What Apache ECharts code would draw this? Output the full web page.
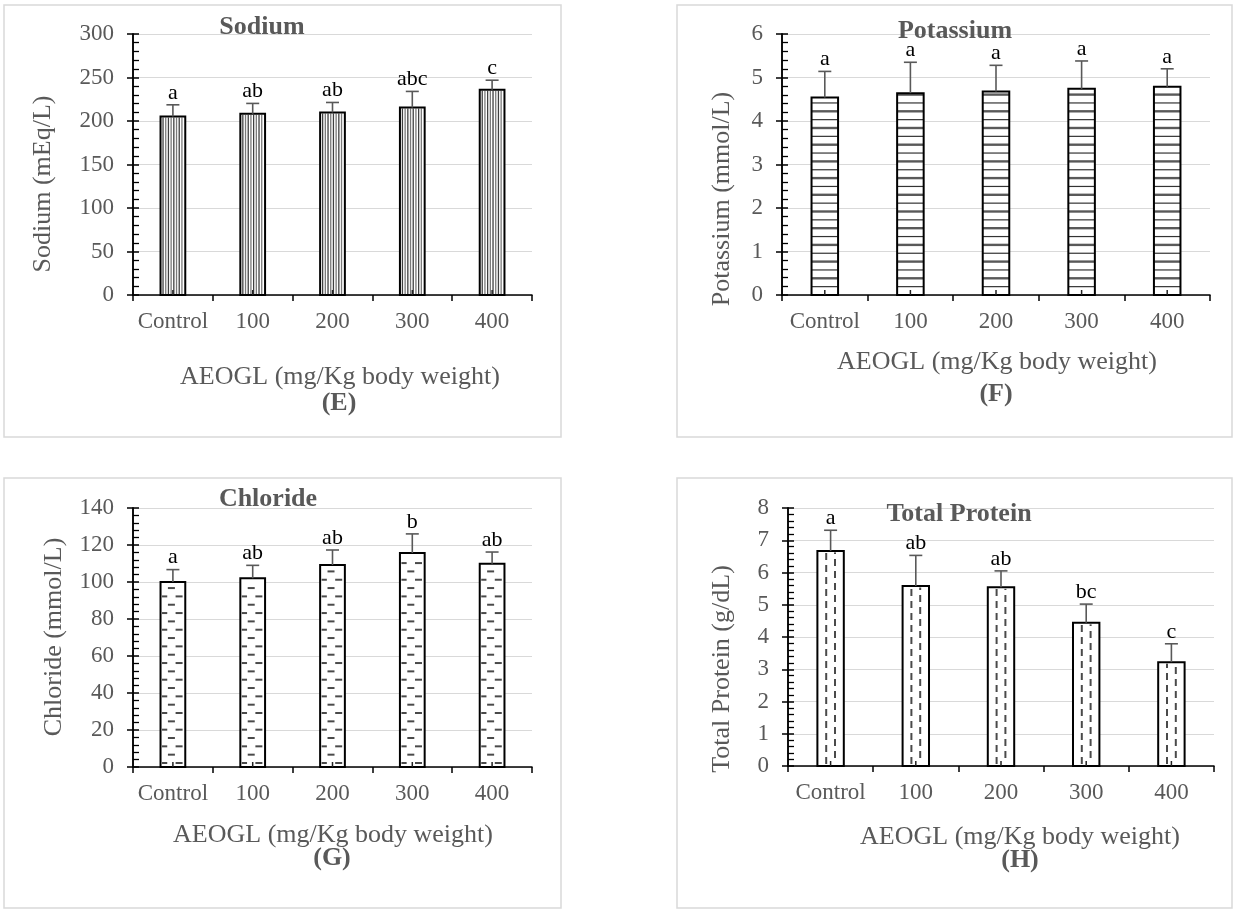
<!DOCTYPE html>
<html><head><meta charset="utf-8">
<script src="https://cdn.jsdelivr.net/npm/echarts@6/dist/echarts.min.js"></script>
<style>html,body{margin:0;padding:0;background:#fff}#c{width:1235px;height:912px}</style>
</head><body><div id="c"></div>
<script>
// ---------- data ----------
const categories = ['Control', '100', '200', '300', '400'];

const sodiumMean = [205.1, 208.2, 209.8, 215.5, 235.9];
const sodiumErr = [13.5, 12.0, 11.5, 18.5, 11.0];
const sodiumLetters = ['a', 'ab', 'ab', 'abc', 'c'];
const sodiumAxis = [0, 300, 50];

const potassiumMean = [4.54, 4.64, 4.68, 4.74, 4.79];
const potassiumErr = [0.60, 0.71, 0.60, 0.64, 0.41];
const potassiumLetters = ['a', 'a', 'a', 'a', 'a'];
const potassiumAxis = [0, 6, 1];

const chlorideMean = [100.0, 102.0, 109.2, 115.7, 109.8];
const chlorideErr = [6.7, 7.0, 8.1, 10.3, 6.4];
const chlorideLetters = ['a', 'ab', 'ab', 'b', 'ab'];
const chlorideAxis = [0, 140, 20];

const proteinMean = [6.67, 5.58, 5.54, 4.44, 3.22];
const proteinErr = [0.64, 0.95, 0.51, 0.58, 0.57];
const proteinLetters = ['a', 'ab', 'ab', 'bc', 'c'];
const proteinAxis = [0, 8, 1];

const xAxisName = 'AEOGL (mg/Kg body weight)';

// ---------- styling / layout ----------
const SERIF = '"Liberation Serif", "Times New Roman", serif';
const GRAY = '#595959';

const panels = [
  { mean: sodiumMean, err: sodiumErr, letters: sodiumLetters, axis: sodiumAxis, pattern: 'vstripe',
    grid: { left: 133, top: 34, width: 399, height: 261 },
    title: 'Sodium', titlePos: [262, 27], yName: 'Sodium (mEq/L)', yNamePos: [43, 184],
    xNamePos: [340, 377], tag: '(E)', tagPos: [339, 403], box: [4, 5, 557, 432] },
  { mean: potassiumMean, err: potassiumErr, letters: potassiumLetters, axis: potassiumAxis, pattern: 'hline',
    grid: { left: 782, top: 34, width: 428, height: 261 },
    title: 'Potassium', titlePos: [955, 31], yName: 'Potassium (mmol/L)', yNamePos: [722, 199],
    xNamePos: [997, 362], tag: '(F)', tagPos: [996, 394], box: [677, 5, 555, 432] },
  { mean: chlorideMean, err: chlorideErr, letters: chlorideLetters, axis: chlorideAxis, pattern: 'dash',
    grid: { left: 133, top: 508, width: 399, height: 259 },
    title: 'Chloride', titlePos: [268, 499], yName: 'Chloride (mmol/L)', yNamePos: [54, 637],
    xNamePos: [333, 835], tag: '(G)', tagPos: [332, 858], box: [4, 478, 557, 430] },
  { mean: proteinMean, err: proteinErr, letters: proteinLetters, axis: proteinAxis, pattern: 'vdash',
    grid: { left: 788, top: 508, width: 426, height: 258 },
    title: 'Total Protein', titlePos: [959, 514], yName: 'Total Protein (g/dL)', yNamePos: [722, 669],
    xNamePos: [1020, 837], tag: '(H)', tagPos: [1020, 860], box: [677, 478, 555, 430] }
];

function patternEls(kind, x0, x1, yt, yb) {
  const els = [];
  const w = x1 - x0;
  const line = (a, b, c, d, color, lw) => els.push({ type: 'line', shape: { x1: a, y1: b, x2: c, y2: d }, style: { stroke: color, lineWidth: lw } });
  if (kind === 'vstripe') {
    let k = 0;
    for (let x = x0 + 2.5; x < x1 - 1; x += 2.7, k++) {
      line(x, yt + 1, x, yb, k % 2 ? '#7a7a7a' : '#404040', 1.3);
    }
  } else if (kind === 'hline') {
    let k = 0;
    for (let y = yb - 8.35; y > yt + 1; y -= 8.35, k++) {
      if (k % 2) line(x0, y, x1, y, GRAY, 2.4);
      else line(x0, y, x1, y, '#333', 1.2);
    }
  } else if (kind === 'dash') {
    let k = 0;
    for (let y = yb - 4; y > yt + 2; y -= 8.33, k++) {
      const segs = (k % 2 === 0) ? [[w * 0.13, 7], [w * 0.75, 7]] : [[w * 0.44, 7]];
      segs.forEach(([c, len]) => {
        const a = Math.max(x0 + 1.5, x0 + c - len / 2), b = Math.min(x1 - 1.5, x0 + c + len / 2);
        if (b > a) line(a, y, b, y, '#4a4a4a', 2);
      });
    }
  } else if (kind === 'vdash') {
    [[w / 3, 0], [2 * w / 3, 6]].forEach(([cx, off]) => {
      for (let y = yb - 2 - off; y > yt + 1; y -= 12) {
        const y2 = Math.max(yt + 1.5, y - 7);
        line(x0 + cx, y, x0 + cx, y2, '#4a4a4a', 2);
      }
    });
  }
  return els;
}

function makeRender(kind, letters) {
  return function (params, api) {
    const i = api.value(0), v = api.value(1), e = api.value(2);
    const base = api.coord([i, 0]);
    const top = api.coord([i, v]);
    const etop = api.coord([i, v + e]);
    const band = api.size([1, 0])[0];
    const w = band * 0.31;
    const cx = base[0];
    const x0 = cx - w / 2, x1 = cx + w / 2, yb = base[1], yt = top[1];
    const children = [];
    children.push({ type: 'rect', shape: { x: x0, y: yt, width: w, height: yb - yt }, style: { fill: '#fff' } });
    patternEls(kind, x0, x1, yt, yb).forEach(el => children.push(el));
    children.push({ type: 'rect', shape: { x: x0, y: yt, width: w, height: yb - yt }, style: { fill: 'none', stroke: '#000', lineWidth: 2 } });
    children.push({ type: 'line', shape: { x1: cx, y1: yt, x2: cx, y2: etop[1] }, style: { stroke: GRAY, lineWidth: 1.6 } });
    children.push({ type: 'line', shape: { x1: cx - 6.5, y1: etop[1], x2: cx + 6.5, y2: etop[1] }, style: { stroke: GRAY, lineWidth: 1.6 } });
    children.push({ type: 'line', shape: { x1: cx, y1: yb, x2: cx, y2: yb - 5 }, style: { stroke: '#222', lineWidth: 1.5 } });
    children.push({ type: 'text', style: { text: letters[i], x: cx, y: etop[1] - 1, align: 'center', verticalAlign: 'bottom', font: '22px ' + SERIF, fill: '#000' } });
    return { type: 'group', children };
  };
}

const axisLineStyle = { color: '#000', width: 1.5 };
const option = { animation: false, backgroundColor: '#fff', grid: [], xAxis: [], yAxis: [], series: [], graphic: [] };

panels.forEach((p, g) => {
  const [mn, mx, iv] = p.axis;
  option.grid.push(Object.assign({ containLabel: false }, p.grid));
  option.xAxis.push({
    gridIndex: g, type: 'category', data: categories, boundaryGap: true,
    axisLine: { lineStyle: axisLineStyle },
    axisTick: { show: true, length: 6, interval: 0, lineStyle: axisLineStyle },
    axisLabel: { color: GRAY, fontFamily: SERIF, fontSize: 23, margin: 15, interval: 0 },
    splitLine: { show: false }
  });
  option.yAxis.push({
    gridIndex: g, type: 'value', min: mn, max: mx, interval: iv,
    axisLine: { show: true, lineStyle: axisLineStyle },
    axisTick: { show: true, length: 6, lineStyle: axisLineStyle },
    axisLabel: { color: GRAY, fontFamily: SERIF, fontSize: 23, margin: 19 },
    splitLine: { show: true, lineStyle: { color: '#d9d9d9', width: 1.2 } }
  });
  option.series.push({
    type: 'custom', xAxisIndex: g, yAxisIndex: g, z: 3,
    renderItem: makeRender(p.pattern, p.letters),
    encode: { x: 0, y: 1 },
    data: categories.map((c, i) => [i, p.mean[i], p.err[i]])
  });
});
// overlay grids for inside minor ticks
panels.forEach((p, g) => {
  const [mn, mx, iv] = p.axis;
  const gi = g + 4;
  option.grid.push(Object.assign({ containLabel: false }, p.grid));
  option.xAxis.push({ gridIndex: gi, type: 'category', data: categories, show: false });
  option.yAxis.push({
    gridIndex: gi, type: 'value', min: mn, max: mx, interval: iv,
    axisLine: { show: true, lineStyle: axisLineStyle },
    axisTick: { show: true, inside: true, length: 6, lineStyle: axisLineStyle },
    minorTick: { show: true, splitNumber: 5, length: 6, lineStyle: { color: '#000', width: 1.3 } },
    axisLabel: { show: false }, splitLine: { show: false }
  });
});

panels.forEach(p => {
  option.graphic.push({ type: 'rect', shape: { x: p.box[0], y: p.box[1], width: p.box[2], height: p.box[3] }, style: { fill: 'none', stroke: '#d9d9d9', lineWidth: 1.5 }, z: 0, silent: true });
  option.graphic.push({ type: 'text', x: p.titlePos[0], y: p.titlePos[1], style: { text: p.title, font: 'bold 26px ' + SERIF, fill: GRAY, align: 'center', verticalAlign: 'middle' }, z: 10 });
  option.graphic.push({ type: 'text', x: p.yNamePos[0], y: p.yNamePos[1], rotation: Math.PI / 2, style: { text: p.yName, font: '26px ' + SERIF, fill: GRAY, align: 'center', verticalAlign: 'middle' }, z: 10 });
  option.graphic.push({ type: 'text', x: p.xNamePos[0], y: p.xNamePos[1], style: { text: xAxisName, font: '26px ' + SERIF, fill: GRAY, align: 'center', verticalAlign: 'middle' }, z: 10 });
  option.graphic.push({ type: 'text', x: p.tagPos[0], y: p.tagPos[1], style: { text: p.tag, font: 'bold 26px ' + SERIF, fill: GRAY, align: 'center', verticalAlign: 'middle' }, z: 10 });
});

const chart = echarts.init(document.getElementById('c'), null, { renderer: 'canvas' });
chart.setOption(option);
</script>
</body></html>
